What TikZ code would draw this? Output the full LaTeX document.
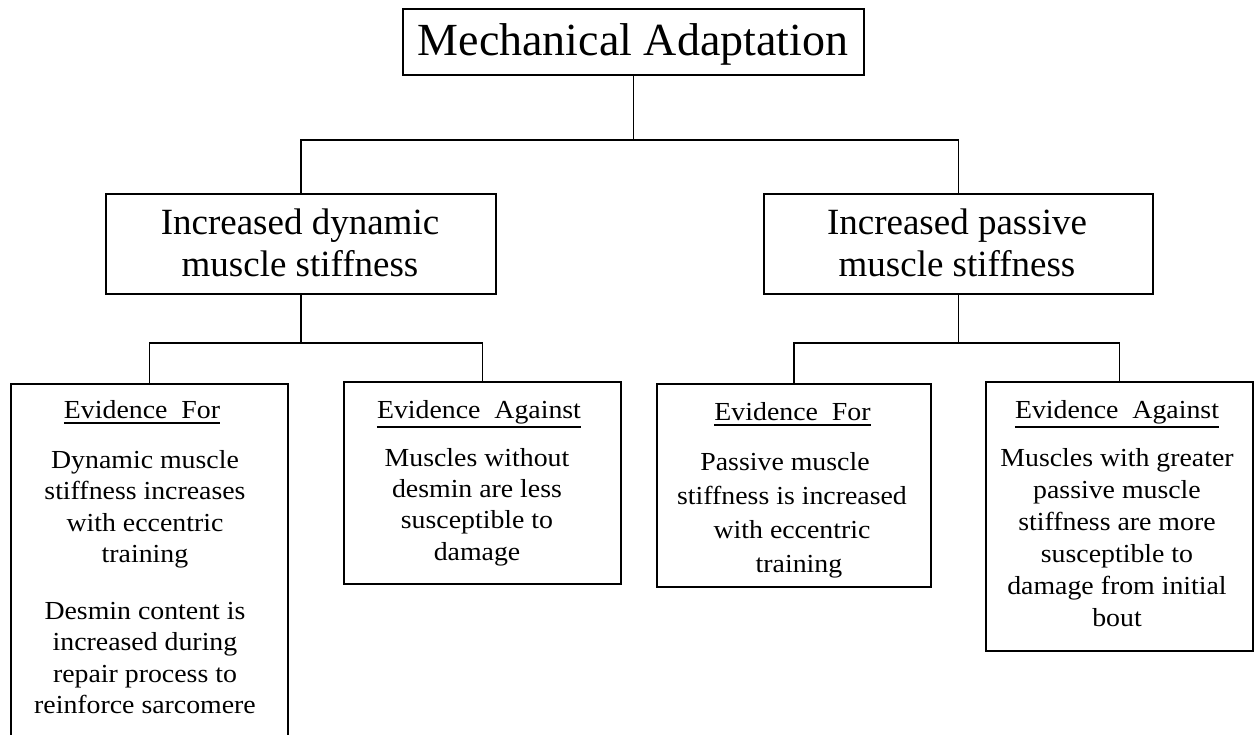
\documentclass[tikz,border=0pt]{standalone}
\usepackage{fontspec}
\setmainfont{Liberation Serif}
\newfontfamily\evfont[FakeStretch=1.07]{Liberation Serif}
\begin{document}
\begin{tikzpicture}[x=1pt,y=-1pt,
  boxn/.style={draw, line width=1.8pt, inner sep=0pt, anchor=north west},
  conn/.style={line width=1.6pt},
  txt/.style={inner sep=0pt, align=center, anchor=base},
  topf/.style={font=\fontsize{46}{54}\selectfont},
  midf/.style={font=\fontsize{37}{42}\selectfont},
  evh/.style={font=\evfont\fontsize{26}{31.5}\selectfont},
  evb/.style={font=\evfont\fontsize{26}{#1}\selectfont},
  uline/.style={line width=1.3pt}
]
\useasboundingbox (0,0) rectangle (1256,735);
\clip (0,0) rectangle (1256,735);
\fill[white] (0,0) rectangle (1256,735);

% boxes
\node[boxn, minimum width=461pt, minimum height=66pt] (top) at (402,8) {};
\node[boxn, minimum width=390pt, minimum height=100pt] (L) at (105,193) {};
\node[boxn, minimum width=389pt, minimum height=100pt] (R) at (763,193) {};
\node[boxn, minimum width=277pt, minimum height=420pt] (LEF) at (10,383) {};
\node[boxn, minimum width=277pt, minimum height=202pt] (LEA) at (343,381) {};
\node[boxn, minimum width=274pt, minimum height=203pt] (REF) at (656,383) {};
\node[boxn, minimum width=267pt, minimum height=269pt] (REA) at (985,381) {};

% connectors
\path (top.south) ++(0,64) coordinate (j1);
\path (L.south) ++(0,48) coordinate (j2);
\path (R.south) ++(0,48) coordinate (j3);
\draw[conn] (top.south) -- (j1);
\draw[conn] (L.north) |- (j1) -| (R.north);
\draw[conn] (L.south) -- (j2);
\draw[conn] (LEF.north) |- (j2) -| (LEA.north);
\draw[conn] (R.south) -- (j3);
\draw[conn] (REF.north) |- (j3) -| (REA.north);

% texts (anchor base = baseline of the last line)
\node[txt, topf] (tt) at (633,56) {Mechanical Adaptation};
\node[txt, midf] (lt) at (300,277) {Increased dynamic\\muscle stiffness};
\node[txt, midf] (rt) at (957,277) {Increased passive\\muscle stiffness};

\node[txt, evh] (h1) at (142,418) {Evidence\ \ For};
\draw[uline] ([yshift=-5pt]h1.base west) -- ([yshift=-5pt]h1.base east);
\node[txt, evb=31.5] (b1) at (145,562.5) {Dynamic muscle\\stiffness increases\\with eccentric\\training};
\node[txt, evb=31.5] (b2) at (145,713.5) {Desmin content is\\increased during\\repair process to\\reinforce sarcomere};

\node[txt, evh] (h2) at (479,418) {Evidence\ \ Against};
\draw[uline] ([yshift=-9pt]h2.base west) -- ([yshift=-9pt]h2.base east);
\node[txt, evb=31.3] (b3) at (477,560) {Muscles without\\desmin are less\\susceptible to\\damage};

\node[txt, evh] (h3) at (792.5,420) {Evidence\ \ For};
\draw[uline] ([yshift=-5pt]h3.base west) -- ([yshift=-5pt]h3.base east);
\node[txt, evb=34] (b4) at (792,572) {Passive muscle\hspace*{14pt}\\stiffness is increased\\with eccentric\hspace*{6pt}\\\hspace*{14pt}training};

\node[txt, evh] (h4) at (1117,418) {Evidence\ \ Against};
\draw[uline] ([yshift=-9pt]h4.base west) -- ([yshift=-9pt]h4.base east);
\node[txt, evb=32] (b5) at (1117,626) {Muscles with greater\\passive muscle\\stiffness are more\\susceptible to\\damage from initial\\bout};
\end{tikzpicture}
\end{document}
